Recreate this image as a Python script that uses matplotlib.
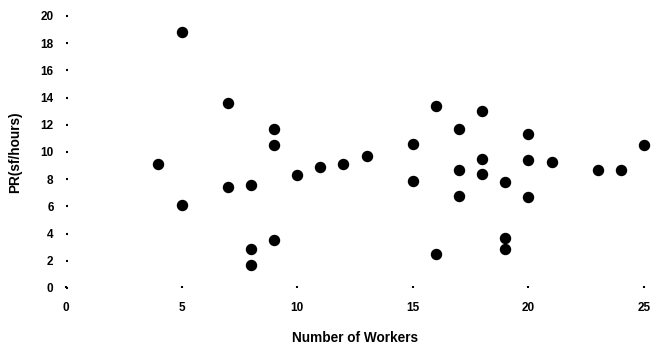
import matplotlib
matplotlib.use("Agg")
import matplotlib.pyplot as plt

workers = [4, 5, 5, 7, 7, 8, 8, 8, 9, 9, 9, 10, 11, 12, 13, 15, 15, 16, 16,
           17, 17, 17, 18, 18, 18, 19, 19, 19, 20, 20, 20, 21, 23, 24, 25]
pr = [9.1, 18.8, 6.1, 13.6, 7.4, 7.6, 2.9, 1.7, 11.7, 10.5, 3.5, 8.3, 8.9, 9.1, 9.7,
      10.6, 7.9, 13.4, 2.5, 11.7, 8.7, 6.8, 13.0, 9.5, 8.4, 7.8, 3.7, 2.9, 11.3, 9.4,
      6.7, 9.3, 8.7, 8.7, 10.5]
xticks = [0, 5, 10, 15, 20, 25]
yticks = [0, 2, 4, 6, 8, 10, 12, 14, 16, 18, 20]

plt.rcParams['font.family'] = ['Liberation Sans', 'DejaVu Sans']

fig = plt.figure(figsize=(6.57, 3.5), dpi=100)
ax = fig.add_axes([66/657, 1-288/350, (644-66)/657, (288-16)/350])
ax.scatter(workers, pr, s=52, color='black', clip_on=False, zorder=3)
ax.set_xlim(0, 25)
ax.set_ylim(0, 20)
for s in ax.spines.values():
    s.set_visible(False)
ax.set_xticks(xticks)
ax.set_yticks(yticks)
ax.tick_params(axis='both', direction='in', length=1.5, width=1.5, color='black',
               labelsize=8.5)
ax.tick_params(axis='y', pad=9)
ax.tick_params(axis='x', pad=10)
for lab in ax.get_xticklabels() + ax.get_yticklabels():
    lab.set_fontweight('bold')
ax.set_xlabel('Number of Workers', fontsize=9.8, fontweight='bold', labelpad=12)
ax.set_ylabel('PR(sf/hours)', fontsize=9.8, fontweight='bold', labelpad=13)
fig.savefig('out.png', dpi=100)
